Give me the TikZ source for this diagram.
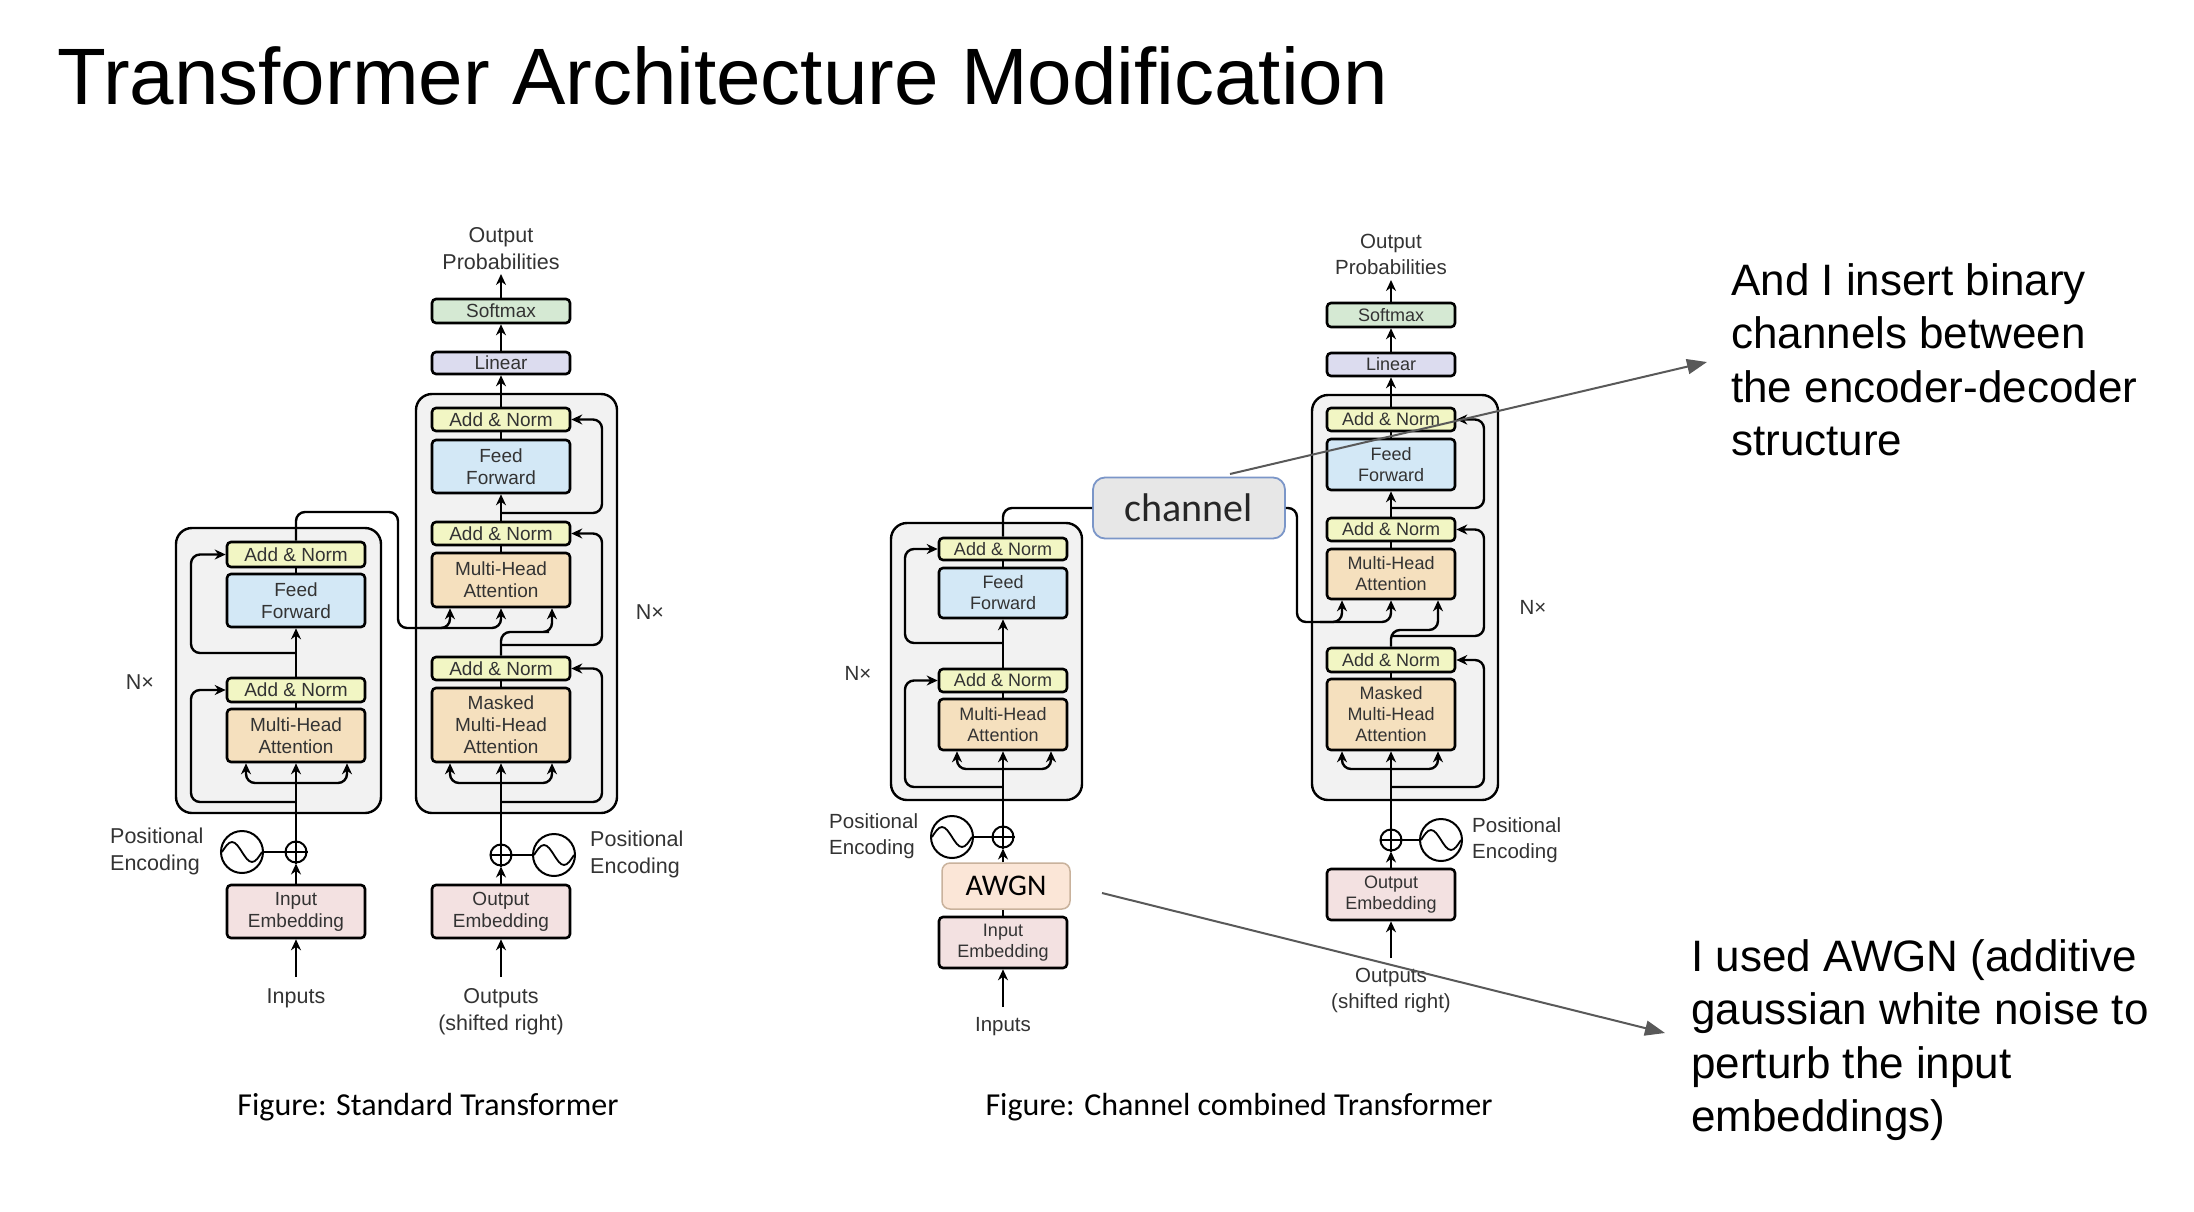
\documentclass[tikz,border=0pt]{standalone}
\usepackage{fontspec}
\setmainfont{Liberation Sans}
\newfontfamily\capfont{Carlito}
\usetikzlibrary{arrows.meta,calc}
\newcommand{\myfs}[2]{\fontsize{#1}{#2}\selectfont}
\definecolor{anfill}{HTML}{F2F6C4}
\definecolor{fffill}{HTML}{D3E8F6}
\definecolor{mhfill}{HTML}{F5E0BE}
\definecolor{emfill}{HTML}{F3E1E1}
\definecolor{smfill}{HTML}{D5E9D3}
\definecolor{lnfill}{HTML}{DCDCEF}
\definecolor{outerfill}{HTML}{F2F2F2}
\definecolor{lbl}{HTML}{333333}
\definecolor{annot}{HTML}{595959}
\definecolor{chfill}{HTML}{E7E7E7}
\definecolor{chdraw}{HTML}{7B96C8}
\definecolor{awfill}{HTML}{FBE6D7}
\definecolor{awdraw}{HTML}{C9B29C}
\begin{document}
\begin{tikzpicture}[x=1pt,y=-1pt,
  outerbox/.style={draw=black, line width=2.4pt, fill=outerfill, rounded corners=16pt, inner sep=0pt},
  blkL/.style={draw=black, line width=2.6pt, rounded corners=4pt, minimum width=138pt, inner sep=0pt, align=center, text=lbl, font=\myfs{19}{22}},
  blkR/.style={blkL, minimum width=128pt, font=\myfs{18}{21}},
  boxAN/.style={fill=anfill},
  boxFF/.style={fill=fffill},
  boxMH/.style={fill=mhfill},
  boxEM/.style={fill=emfill},
  boxSM/.style={fill=smfill},
  boxLN/.style={fill=lnfill},
  lab/.style={text=lbl, inner sep=0pt, align=center, font=\myfs{21.5}{27}},
  labR/.style={lab, font=\myfs{20.5}{25.5}},
  conn/.style={draw=black, line width=2.4pt, rounded corners=9pt},
  arr/.style={conn, -{Stealth[length=11pt,width=10pt]}},
  sinec/.style={draw=black, circle, line width=2pt, minimum size=42pt, inner sep=0pt},
  plusc/.style={draw=black, circle, line width=2pt, minimum size=21pt, inner sep=0pt},
  sinewave/.pic={\draw[line width=1.8pt] (-20,0) sin (-10,-10) cos (0,0) sin (10,10) cos (20,0);},
  annarr/.style={draw=annot, line width=2pt, -{Triangle[length=20pt,width=15pt]}},
  anntext/.style={anchor=north west, inner sep=0pt, align=left, font=\myfs{44}{53.5}},
  capt/.style={anchor=base, inner sep=0pt, font=\capfont\myfs{32}{38}}
]
\fill[white] (0,0) rectangle (2194,1212);
\useasboundingbox (0,0) rectangle (2194,1212);

% ---------- Title
\node[anchor=base west, inner sep=0pt, font=\myfs{80}{96}] (title) at (57,105) {Transformer Architecture Modification};

% =================== LEFT: standard transformer
\node[outerbox, minimum width=205pt, minimum height=285pt] (LeBox) at (278.5,670.5) {};
\node[outerbox, minimum width=201pt, minimum height=419pt] (LdBox) at (516.5,603.5) {};

% encoder
\node[blkL, boxAN, minimum height=25pt] (LeAN2) at (296,554.5) {Add \& Norm};
\node[blkL, boxFF, minimum height=53pt] (LeFF) at (296,600.5) {Feed\\Forward};
\node[blkL, boxAN, minimum height=24pt] (LeAN1) at (296,690) {Add \& Norm};
\node[blkL, boxMH, minimum height=53pt] (LeMHA) at (296,735.5) {Multi-Head\\Attention};
\node[plusc] (LePlus) at (296,852) {};
\node[sinec] (LeSin) at (242,852) {};
\pic at (LeSin) {sinewave};
\node[blkL, boxEM, minimum height=53pt] (LeEmb) at (296,911.5) {Input\\Embedding};
\node[lab] (LeIn) at (296,998) {Inputs};
\node[lab, anchor=west, align=left] (LePE) at (110,851) {Positional\\Encoding};
\node[lab] (LeNx) at (140,682) {N×};

% decoder
\node[blkL, boxLN, minimum height=22pt] (LdLin) at (501,363) {Linear};
\node[blkL, boxSM, minimum height=24pt] (LdSm) at (501,311) {Softmax};
\node[lab] (LdProb) at (501,248.5) {Output\\Probabilities};
\node[blkL, boxAN, minimum height=23pt] (LdAN3) at (501,419.5) {Add \& Norm};
\node[blkL, boxFF, minimum height=53pt] (LdFF) at (501,466.5) {Feed\\Forward};
\node[blkL, boxAN, minimum height=23pt] (LdAN2) at (501,533.5) {Add \& Norm};
\node[blkL, boxMH, minimum height=54pt] (LdMHA) at (501,580) {Multi-Head\\Attention};
\node[blkL, boxAN, minimum height=23pt] (LdAN1) at (501,668.5) {Add \& Norm};
\node[blkL, boxMH, minimum height=74pt] (LdMM) at (501,725) {Masked\\Multi-Head\\Attention};
\node[plusc] (LdPlus) at (501,855) {};
\node[sinec] (LdSin) at (554,855) {};
\pic at (LdSin) {sinewave};
\node[blkL, boxEM, minimum height=53pt] (LdEmb) at (501,911.5) {Output\\Embedding};
\node[lab] (LdOut) at (501,1011.5) {Outputs\\(shifted right)};
\node[lab, anchor=west, align=left] (LdPE) at (590,854) {Positional\\Encoding};
\node[lab] (LdNx) at (650,612) {N×};

% encoder connectors
\coordinate (LeInTop) at (296,977);
\draw[arr] (LeInTop) -- (LeEmb.south);
\draw[arr] (LeEmb.north) -- (LePlus.south);
\draw[line width=1.8pt] (LePlus.north) -- (LePlus.south) (LePlus.west) -- (LePlus.east);
\draw[conn] (LeSin.east) -- (LePlus.west);
\draw[arr] (LePlus.north) -- (LeMHA.south);
\coordinate (LeFork) at (296,783);
\draw[arr] (LeFork) -| ([xshift=-50pt]LeMHA.south);
\draw[arr] (LeFork) -| ([xshift=51pt]LeMHA.south);
\draw[conn] (LeMHA.north) -- (LeAN1.south);
\draw[arr] (LeAN1.north) -- (LeFF.south);
\draw[conn] (LeFF.north) -- (LeAN2.south);
\coordinate (LeLoop1) at (296,802);
\coordinate (LeLoop2) at (296,653);
\draw[arr] (LeLoop1) -| (191,690) -- (LeAN1.west);
\draw[arr] (LeLoop2) -| (191,554.5) -- (LeAN2.west);
% encoder -> decoder
\coordinate (LeT1) at (398,512);
\coordinate (LeT2) at (398,628);
\coordinate (LeBr) at (420,628);
\draw[arr] (LeAN2.north) |- (LeT1) -- (LeT2) -| ([xshift=-51pt]LdMHA.south);
\draw[arr] (LeBr) -| (LdMHA.south);

% decoder connectors
\coordinate (LdOutTop) at (501,977);
\draw[arr] (LdOutTop) -- (LdEmb.south);
\draw[arr] (LdEmb.north) -- (LdPlus.south);
\draw[line width=1.8pt] (LdPlus.north) -- (LdPlus.south) (LdPlus.west) -- (LdPlus.east);
\draw[conn] (LdSin.west) -- (LdPlus.east);
\draw[arr] (LdPlus.north) -- (LdMM.south);
\coordinate (LdFork) at (501,783);
\draw[arr] (LdFork) -| ([xshift=-51pt]LdMM.south);
\draw[arr] (LdFork) -| ([xshift=51pt]LdMM.south);
\draw[conn] (LdMM.north) -- (LdAN1.south);
\draw[arr] (LdAN1.north) |- (540,632) -| ([xshift=51pt]LdMHA.south);
\draw[conn] (LdMHA.north) -- (LdAN2.south);
\draw[arr] (LdAN2.north) -- (LdFF.south);
\draw[conn] (LdFF.north) -- (LdAN3.south);
\draw[arr] (LdAN3.north) -- (LdLin.south);
\draw[arr] (LdLin.north) -- (LdSm.south);
\coordinate (LdProbBot) at (501,274);
\draw[arr] (LdSm.north) -- (LdProbBot);
\coordinate (LdLoopA) at (501,802);
\coordinate (LdLoopB) at (501,645);
\coordinate (LdLoopC) at (501,513);
\draw[arr] (LdLoopA) -| (602,668.5) -- (LdAN1.east);
\draw[arr] (LdLoopB) -| (602,533.5) -- (LdAN2.east);
\draw[arr] (LdLoopC) -| (602,419.5) -- (LdAN3.east);

\node[capt] (LCap) at (428,1115) {Figure: Standard Transformer};

% =================== RIGHT: channel combined transformer
\node[outerbox, minimum width=191pt, minimum height=277pt] (ReBox) at (986.5,661.5) {};
\node[outerbox, minimum width=186pt, minimum height=405pt] (RdBox) at (1405,597.5) {};

% encoder
\node[blkR, boxAN, minimum height=22pt] (ReAN2) at (1003,549) {Add \& Norm};
\node[blkR, boxFF, minimum height=50pt] (ReFF) at (1003,593) {Feed\\Forward};
\node[blkR, boxAN, minimum height=23pt] (ReAN1) at (1003,680.5) {Add \& Norm};
\node[blkR, boxMH, minimum height=51pt] (ReMHA) at (1003,724.5) {Multi-Head\\Attention};
\node[plusc] (RePlus) at (1003,837) {};
\node[sinec] (ReSin) at (952,837) {};
\pic at (ReSin) {sinewave};
\node[draw=awdraw, fill=awfill, line width=1.5pt, rounded corners=8pt, minimum width=128pt, minimum height=46pt, inner sep=0pt, font=\capfont\myfs{30}{36}] (ReAWGN) at (1006,886) {AWGN};
\node[blkR, boxEM, minimum height=51pt] (ReEmb) at (1003,942.5) {Input\\Embedding};
\node[labR] (ReIn) at (1003,1027) {Inputs};
\node[labR, anchor=west, align=left] (RePE) at (829,836) {Positional\\Encoding};
\node[labR] (ReNx) at (858,673) {N×};

% channel
\node[draw=chdraw, fill=chfill, line width=1.8pt, rounded corners=12pt, minimum width=192pt, minimum height=61pt, inner sep=0pt, font=\capfont\myfs{40}{48}, text=black!85] (RCh) at (1189,508) {channel};

% decoder
\node[blkR, boxLN, minimum height=23pt] (RdLin) at (1391,364.5) {Linear};
\node[blkR, boxSM, minimum height=24pt] (RdSm) at (1391,315) {Softmax};
\node[labR] (RdProb) at (1391,254.5) {Output\\Probabilities};
\node[blkR, boxAN, minimum height=23pt] (RdAN3) at (1391,419.5) {Add \& Norm};
\node[blkR, boxFF, minimum height=51pt] (RdFF) at (1391,464.5) {Feed\\Forward};
\node[blkR, boxAN, minimum height=23pt] (RdAN2) at (1391,529.5) {Add \& Norm};
\node[blkR, boxMH, minimum height=50pt] (RdMHA) at (1391,574) {Multi-Head\\Attention};
\node[blkR, boxAN, minimum height=24pt] (RdAN1) at (1391,660) {Add \& Norm};
\node[blkR, boxMH, minimum height=71pt] (RdMM) at (1391,714.5) {Masked\\Multi-Head\\Attention};
\node[plusc] (RdPlus) at (1391,840) {};
\node[sinec] (RdSin) at (1441,840) {};
\pic at (RdSin) {sinewave};
\node[blkR, boxEM, minimum height=51pt] (RdEmb) at (1391,894.5) {Output\\Embedding};
\node[labR] (RdOut) at (1391,990.5) {Outputs\\(shifted right)};
\node[labR, anchor=west, align=left] (RdPE) at (1472,840) {Positional\\Encoding};
\node[labR] (RdNx) at (1533,607) {N×};

% encoder connectors
\coordinate (ReInTop) at (1003,1007);
\draw[arr] (ReInTop) -- (ReEmb.south);
\draw[conn] (ReEmb.north) -- (ReEmb.north |- ReAWGN.south);
\draw[arr] (ReEmb.north |- ReAWGN.north) -- (RePlus.south);
\draw[line width=1.8pt] (RePlus.north) -- (RePlus.south) (RePlus.west) -- (RePlus.east);
\draw[conn] (ReSin.east) -- (RePlus.west);
\draw[arr] (RePlus.north) -- (ReMHA.south);
\coordinate (ReFork) at (1003,769);
\draw[arr] (ReFork) -| ([xshift=-46pt]ReMHA.south);
\draw[arr] (ReFork) -| ([xshift=48pt]ReMHA.south);
\draw[conn] (ReMHA.north) -- (ReAN1.south);
\draw[arr] (ReAN1.north) -- (ReFF.south);
\draw[conn] (ReFF.north) -- (ReAN2.south);
\coordinate (ReLoop1) at (1003,787);
\coordinate (ReLoop2) at (1003,643);
\draw[arr] (ReLoop1) -| (905,680.5) -- (ReAN1.west);
\draw[arr] (ReLoop2) -| (905,549) -- (ReAN2.west);
% encoder -> channel -> decoder
\draw[conn] (ReAN2.north) |- (RCh.west);
\coordinate (RChT) at (1297,622);
\coordinate (RChBr) at (1320,622);
\draw[arr] (RCh.east) -| (RChT) -| ([xshift=-49pt]RdMHA.south);
\draw[arr] (RChBr) -| (RdMHA.south);

% decoder connectors
\coordinate (RdOutTop) at (1391,958);
\draw[arr] (RdOutTop) -- (RdEmb.south);
\draw[arr] (RdEmb.north) -- (RdPlus.south);
\draw[line width=1.8pt] (RdPlus.north) -- (RdPlus.south) (RdPlus.west) -- (RdPlus.east);
\draw[conn] (RdSin.west) -- (RdPlus.east);
\draw[arr] (RdPlus.north) -- (RdMM.south);
\coordinate (RdFork) at (1391,769);
\draw[arr] (RdFork) -| ([xshift=-49pt]RdMM.south);
\draw[arr] (RdFork) -| ([xshift=47pt]RdMM.south);
\draw[conn] (RdMM.north) -- (RdAN1.south);
\draw[arr] (RdAN1.north) |- (1420,630) -| ([xshift=47pt]RdMHA.south);
\draw[conn] (RdMHA.north) -- (RdAN2.south);
\draw[arr] (RdAN2.north) -- (RdFF.south);
\draw[conn] (RdFF.north) -- (RdAN3.south);
\draw[arr] (RdAN3.north) -- (RdLin.south);
\draw[arr] (RdLin.north) -- (RdSm.south);
\coordinate (RdProbBot) at (1391,280);
\draw[arr] (RdSm.north) -- (RdProbBot);
\coordinate (RdLoopA) at (1391,787);
\coordinate (RdLoopB) at (1391,636);
\coordinate (RdLoopC) at (1391,508);
\draw[arr] (RdLoopA) -| (1484,660) -- (RdAN1.east);
\draw[arr] (RdLoopB) -| (1484,529.5) -- (RdAN2.east);
\draw[arr] (RdLoopC) -| (1484,419.5) -- (RdAN3.east);

\node[capt] (RCap) at (1239,1115) {Figure: Channel combined Transformer};

% =================== annotations
\node[anntext] (T1) at (1731,263) {And I insert binary\\channels between\\the encoder-decoder\\structure};
\node[anntext] (T2) at (1691,939) {I used AWGN (additive\\gaussian white noise to\\perturb the input\\embeddings)};
\coordinate (A1s) at (1230,474);
\coordinate (A1e) at (1707,362);
\coordinate (A2s) at (1102,893);
\coordinate (A2e) at (1665,1033);
\draw[annarr] (A1s) -- (A1e);
\draw[annarr] (A2s) -- (A2e);
\end{tikzpicture}
\end{document}
